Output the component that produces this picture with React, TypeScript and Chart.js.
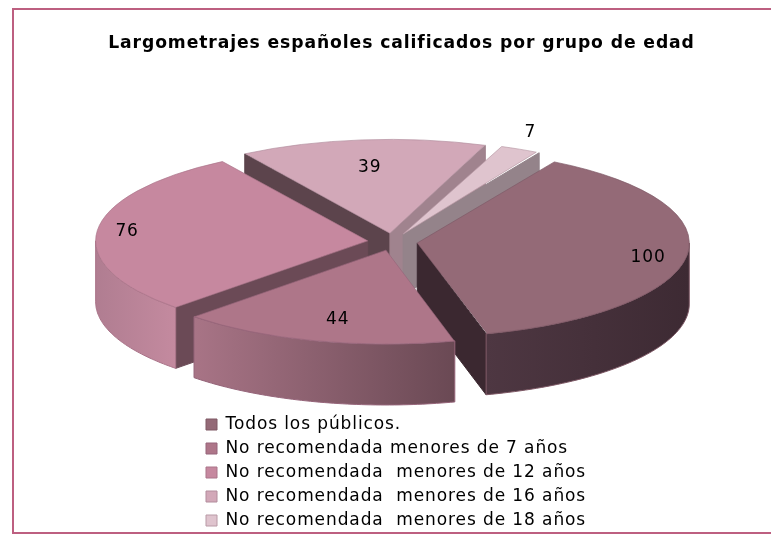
import React, { useEffect, useRef } from "react";
import { Chart, registerables } from "chart.js";

Chart.register(...registerables);

const title = "Largometrajes españoles calificados por grupo de edad";
const categories = [
  "Todos los públicos.",
  "No recomendada menores de 7 años",
  "No recomendada  menores de 12 años",
  "No recomendada  menores de 16 años",
  "No recomendada  menores de 18 años",
];
const values = [100, 44, 76, 39, 7];
const faceColors = ["#946a77", "#ae7689", "#c6889f", "#d2a8b8", "#dfc4ce"];
const edgeColors = ["#7e5865", "#96657a", "#aa7489", "#b28c9c", "#b99aa6"];
const outerWallStops = [
  ["#4e3742", "#3d2a33"],
  ["#a87486", "#6a4954"],
  ["#b07d91", "#c48a9f"],
  ["#a0838e", "#a0838e"],
  ["#94838a", "#94838a"],
];
const startWallColors = ["#3b2830", "#6c4b57", "#6b4a56", "#5c444c", "#94838a"];
const endWallColors = ["#3b2830", "#6c4b57", "#6b4a56", "#a0838e", "#94838a"];
const labelRadius = [0.859, 0.739, 0.892, 0.729, 1.193];
const labelTurnDeg = [1.3, -1.2, 1.2, 0, -2.2];

const FONT = "'DejaVu Sans', Verdana, sans-serif";
const SQUASH = 0.345;
const DEPTH = 61;
const RIM = 272;

function geom(arc: any) {
  const mid = (arc.startAngle + arc.endAngle) / 2;
  const off = (arc.options.offset || 0) / 4;
  const at = (a: number, r: number) => ({
    x: arc.x + Math.cos(a) * r + Math.cos(mid) * off,
    y: arc.y + SQUASH * (Math.sin(a) * r + Math.sin(mid) * off),
  });
  return { mid, at, off };
}

const pie3d = {
  id: "pie3d",
  beforeDraw(chart: any) {
    const { ctx } = chart;
    ctx.save();
    ctx.fillStyle = "#ffffff";
    ctx.fillRect(0, 0, chart.width, chart.height);
    ctx.strokeStyle = "#bd5f80";
    ctx.lineWidth = 2;
    ctx.strokeRect(13, 9, chart.width, 524);
    ctx.restore();
    ctx.letterSpacing = "0.9px";
  },
  afterLayout(chart: any) {
    const lg = chart.legend;
    const h = lg.height;
    lg.left = 199;
    lg.right = lg.left + 420;
    lg.top = 409;
    lg.bottom = lg.top + h + 60;
    const t = chart.titleBlock;
    t.left += 9;
    t.right += 9;
  },
  beforeDatasetDraw(chart: any) {
    const { ctx } = chart;
    const arcs = chart.getDatasetMeta(0).data as any[];
    // Chart.js widens each offset arc by offset * (1 - sin(sweep)); cancel it so every slice shares one rim
    arcs.forEach((a) => {
      const { off } = geom(a);
      const fix = 1 - Math.sin(Math.min(Math.PI, a.circumference || 0));
      a.outerRadius = RIM - off * fix;
    });
    const order = arcs
      .map((a, i) => ({ a, i }))
      .sort((p, q) => Math.sin(geom(p.a).mid) - Math.sin(geom(q.a).mid));
    ctx.save();
    ctx.lineWidth = 1;
    for (const { a, i } of order) {
      const { at } = geom(a);
      const R = RIM;
      const s = a.startAngle;
      const e = a.endAngle;
      const radial = (ang: number, color: string) => {
        const tip = at(ang, 0);
        const rim = at(ang, R);
        ctx.beginPath();
        ctx.moveTo(tip.x, tip.y);
        ctx.lineTo(rim.x, rim.y);
        ctx.lineTo(rim.x, rim.y + DEPTH);
        ctx.lineTo(tip.x, tip.y + DEPTH);
        ctx.closePath();
        ctx.fillStyle = color;
        ctx.strokeStyle = color;
        ctx.fill();
        ctx.stroke();
      };
      if (-Math.cos(s) > 0) radial(s, startWallColors[i]);
      if (Math.cos(e) > 0) radial(e, endWallColors[i]);
      // outer wall on the front half of the ellipse
      const tau = Math.PI * 2;
      for (let k = -1; k <= 1; k++) {
        const lo = Math.max(s, k * tau);
        const hi = Math.min(e, k * tau + Math.PI);
        if (hi <= lo) continue;
        const n = 60;
        const pts: { x: number; y: number }[] = [];
        for (let j = 0; j <= n; j++) pts.push(at(lo + ((hi - lo) * j) / n, R));
        const xs = pts.map((p) => p.x);
        const grad = ctx.createLinearGradient(Math.min(...xs), 0, Math.max(...xs), 0);
        grad.addColorStop(0, outerWallStops[i][0]);
        grad.addColorStop(1, outerWallStops[i][1]);
        ctx.beginPath();
        pts.forEach((p, j) => (j ? ctx.lineTo(p.x, p.y) : ctx.moveTo(p.x, p.y)));
        for (let j = n; j >= 0; j--) ctx.lineTo(pts[j].x, pts[j].y + DEPTH);
        ctx.closePath();
        ctx.fillStyle = grad;
        ctx.strokeStyle = edgeColors[i];
        ctx.fill();
        ctx.stroke();
      }
    }
    ctx.restore();
    const cy = arcs[0].y;
    ctx.save();
    ctx.translate(0, cy);
    ctx.scale(1, SQUASH);
    ctx.translate(0, -cy);
  },
  afterDatasetDraw(chart: any) {
    chart.ctx.restore();
  },
  afterDatasetsDraw(chart: any) {
    const { ctx } = chart;
    const arcs = chart.getDatasetMeta(0).data as any[];
    ctx.save();
    ctx.fillStyle = "#000000";
    ctx.font = `17px ${FONT}`;
    ctx.textAlign = "center";
    ctx.textBaseline = "middle";
    arcs.forEach((a, i) => {
      const { mid, at } = geom(a);
      const p = at(mid + (labelTurnDeg[i] * Math.PI) / 180, RIM * labelRadius[i]);
      ctx.fillText(String(values[i]), p.x, p.y + 2);
    });
    ctx.restore();
  },
};

export default function App() {
  const ref = useRef<HTMLCanvasElement>(null);
  useEffect(() => {
    document.body.style.margin = "0";
    const chart = new Chart(ref.current as HTMLCanvasElement, {
      type: "pie",
      data: {
        labels: categories,
        datasets: [
          {
            data: values,
            backgroundColor: faceColors,
            borderColor: edgeColors,
            borderWidth: 1,
            offset: 100,
            clip: false,
          } as any,
        ],
      },
      options: {
        animation: false,
        responsive: false,
        rotation: 30,
        radius: 250,
        layout: { padding: { left: 14, bottom: 47 } },
        plugins: {
          tooltip: { enabled: false },
          title: {
            display: true,
            text: title,
            color: "#000000",
            font: { family: FONT, size: 17.2, weight: "bold" },
            padding: { top: 33, bottom: 25 },
          },
          legend: {
            position: "bottom",
            align: "start",
            labels: {
              color: "#000000",
              font: { family: FONT, size: 17 },
              boxWidth: 11,
              boxHeight: 11,
              padding: 7,
            },
          },
        },
      },
      plugins: [pie3d],
    });
    return () => chart.destroy();
  }, []);
  return <canvas ref={ref} width={771} height={534} style={{ display: "block" }} />;
}
